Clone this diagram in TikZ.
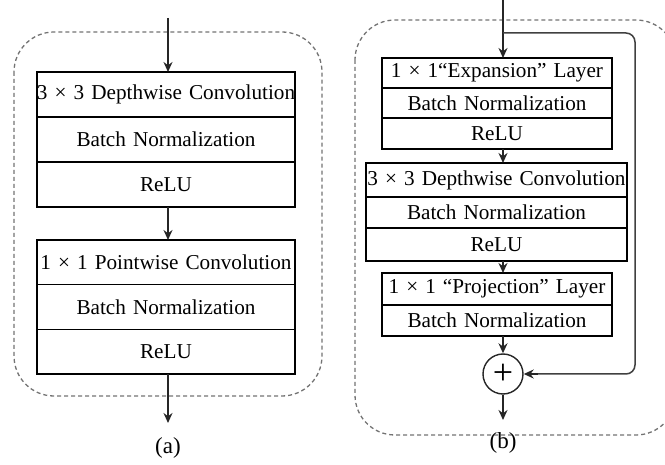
\documentclass[tikz,border=0pt]{standalone}
\usepackage{fontspec}
\setmainfont{Liberation Serif}
\usetikzlibrary{arrows.meta,calc}

\tikzset{
  layer/.style={draw=black, line width=1.3pt, rectangle, inner sep=0pt, outer sep=0pt,
                anchor=north, align=center, font=\fontsize{21.2}{21.2}\selectfont},
  wideA/.style={layer, text width=258pt},
  wideB/.style={layer, text width=230pt},
  wideC/.style={layer, text width=261pt},
  frame/.style={draw=black!55, line width=1.3pt, dash pattern=on 4pt off 3pt, rounded corners=40pt},
  flow/.style={draw=black!85, line width=1.5pt, -{Stealth[length=10pt,width=9pt]}},
  skipline/.style={draw=black!75, line width=1.5pt, rounded corners=9pt},
  caption/.style={font=\fontsize{23}{23}\selectfont},
}

\begin{document}
\begin{tikzpicture}[x=1pt,y=-1pt]
\useasboundingbox (0,0) rectangle (665,465);
\clip (0,0) rectangle (665,465);

% ---------------- (a) depthwise separable block ----------------
\draw[frame] (14,32) rectangle (322,396);

\coordinate (ina) at (168,18);
\node[wideA, minimum height=45pt] (a1) at (166,72) {\hbox{3 × 3 Depthwise Convolution}};
\node[wideA, minimum height=45pt] (a2) at (a1.south) {Batch Normalization};
\node[wideA, minimum height=45pt] (a3) at (a2.south) {ReLU};

\node[wideA, minimum height=44.7pt] (a4) at (166,240) {\hbox{1 × 1 Pointwise Convolution}};
\node[wideA, minimum height=44.7pt] (a5) at (a4.south) {Batch Normalization};
\node[wideA, minimum height=44.7pt] (a6) at (a5.south) {ReLU};
\coordinate (outa) at (168,423);

\draw[flow] (ina) -- (ina |- a1.north);
\draw[flow] (ina |- a3.south) -- (ina |- a4.north);
\draw[flow] (ina |- a6.south) -- (outa);

\node[caption] (capa) at (168,448) {(a)};

% ---------------- (b) inverted residual block ----------------
\draw[frame] (355,20) rectangle (676,435);

\coordinate (inb) at (503,0);
\coordinate (split) at (503,33);
\coordinate (skipx) at (635,0);

\node[wideB, minimum height=30pt] (b1) at (497,58) {\hbox{1 × 1“Expansion” Layer}};
\node[wideB, minimum height=30pt] (b2) at (b1.south) {Batch Normalization};
\node[wideB, minimum height=31pt] (b3) at (b2.south) {ReLU};

\node[wideC, minimum height=34pt] (b4) at (496.5,163) {\hbox{3 × 3 Depthwise Convolution}};
\node[wideC, minimum height=31pt] (b5) at (b4.south) {Batch Normalization};
\node[wideC, minimum height=33pt] (b6) at (b5.south) {ReLU};

\node[wideB, minimum height=32pt] (b7) at (497,273) {\hbox{1 × 1 “Projection” Layer}};
\node[wideB, minimum height=31pt] (b8) at (b7.south) {Batch Normalization};

\node[draw=black!85, line width=1.4pt, circle, minimum size=40pt, inner sep=0pt,
      font=\fontsize{36}{36}\selectfont] (sum) at (503,374) {+};
\coordinate (outb) at (503,420);

\draw[flow] (inb) -- (inb |- b1.north);
\draw[flow] (inb |- b3.south) -- (inb |- b4.north);
\draw[flow] (inb |- b6.south) -- (inb |- b7.north);
\draw[flow] (inb |- b8.south) -- (sum.north);
\draw[flow] (sum.south) -- (outb);

\draw[skipline] (split) -- (split -| skipx) -- (skipx |- sum) -- ($(sum.east)+(12,0)$);
\draw[flow] ($(sum.east)+(14,0)$) -- (sum.east);

\node[caption] (capb) at (503,443) {(b)};
\end{tikzpicture}
\end{document}
